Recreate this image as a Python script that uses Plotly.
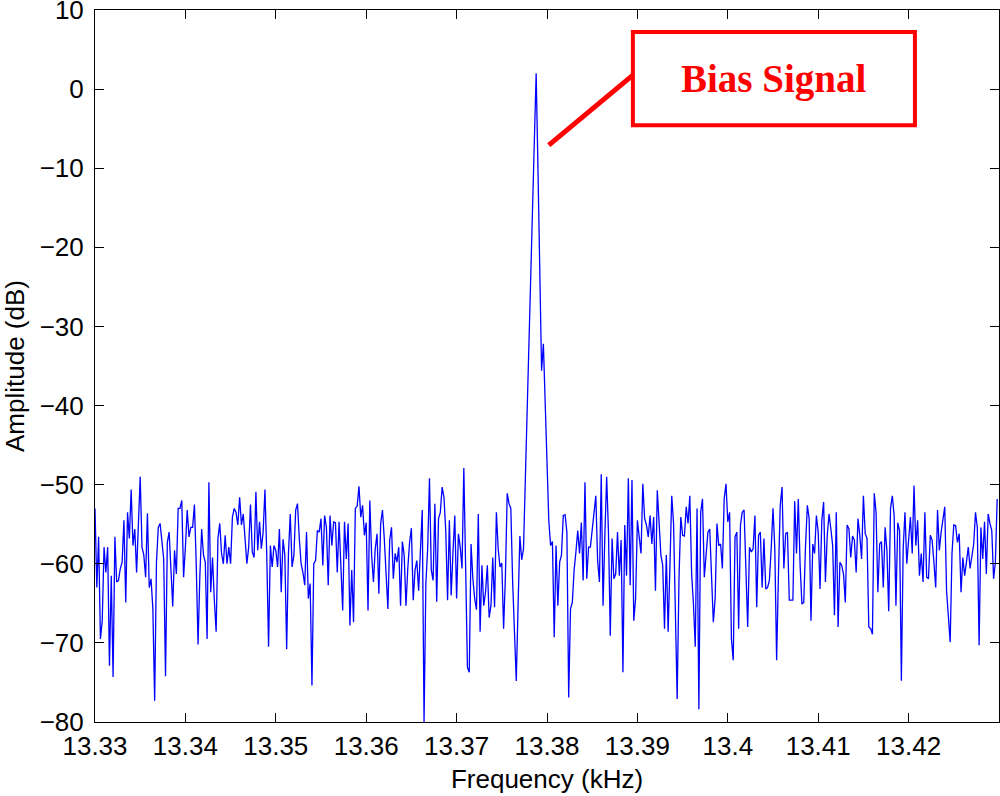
import numpy as np
import plotly.graph_objects as go

# ---------------- data ----------------
f_start = 13.33          # kHz
f_step = 0.0002          # kHz per bin

amp_seg1 = [-53.0, -63.0, -56.6, -69.5, -67.2, -57.9, -61.1, -57.9, -72.9, -61.5,
            -74.3, -56.6, -62.3, -62.1, -60.6, -59.8, -54.5, -64.9, -53.5, -56.8,
            -50.6, -57.7, -55.6, -61.1, -55.0, -49.0, -57.9, -58.9, -61.7, -53.6,
            -63.0, -61.9, -65.7, -77.3, -59.8, -55.4, -54.9, -57.7, -59.4, -74.2,
            -57.3, -56.0, -60.2, -65.4, -58.3, -61.3, -53.0, -53.0, -52.0, -61.7,
            -57.9, -53.2, -56.6, -55.4, -55.4, -52.5, -60.2, -70.2, -61.5, -55.6,
            -58.9, -59.8, -69.5, -49.7, -63.6, -59.2, -64.6, -68.6, -56.8, -54.9,
            -58.7, -60.0, -56.4, -60.0, -57.9, -60.0, -54.1, -53.0, -53.5, -55.1,
            -51.6, -55.1, -53.7, -57.5, -60.0]
amp_seg2 = [-57.9, -52.5, -58.5, -59.2, -50.9, -58.3, -54.7, -58.1, -56.0, -50.6,
            -58.9, -70.5, -57.7, -60.4, -57.7, -58.3, -60.4, -55.6, -63.6, -56.9,
            -58.9, -70.8, -58.7, -53.7, -60.4, -58.9, -53.2, -52.4, -56.8, -60.0,
            -61.1, -62.7, -56.0, -64.4, -62.5, -75.4, -60.0, -59.6, -55.8, -56.0,
            -54.3, -60.2, -53.9, -55.4, -62.7, -53.9, -57.7, -54.7, -54.8, -61.1,
            -54.7, -60.2, -65.9, -54.7, -59.4, -54.9, -67.8, -60.8, -67.4, -53.0,
            -52.7, -50.2, -54.1, -52.6, -56.4, -54.8, -65.9, -52.0, -58.9, -62.3,
            -58.1, -56.2, -63.8, -54.9, -53.2, -56.8, -61.1, -65.7, -57.0, -55.4,
            -61.9, -58.7, -59.8]
amp_seg3 = [-57.9, -65.3, -57.2, -58.9, -65.3, -60.6, -57.3, -55.5, -64.6, -60.8,
            -59.6, -63.4, -58.3, -53.2, -80.0, -62.5, -58.1, -49.2, -60.8, -62.1,
            -52.4, -64.8, -54.3, -53.5, -50.3, -51.6, -55.8, -64.6, -54.5, -64.0,
            -58.5, -53.9, -64.4, -56.2, -57.9, -60.6, -47.9, -62.7, -73.1, -73.7,
            -57.5, -61.9, -64.4, -65.8, -53.7, -68.6, -60.2, -65.3, -63.6, -60.2,
            -66.8, -65.3, -59.2, -65.5, -53.5, -58.1, -60.4, -59.9, -68.2, -61.5,
            -51.1, -52.4, -53.0, -62.3, -68.0, -74.8, -65.3, -56.5, -59.5, -58.1]
amp_peak = [-49.5, -41.0, -32.5, -24.0, -15.5, -7.0, 2.0, -10.0, -22.5, -35.6,
            -32.2, -39.0, -47.0, -54.6]
amp_seg4 = [-57.7, -57.2, -69.3, -57.7, -65.3, -59.8, -58.9, -53.9, -53.8, -56.0,
            -76.9, -65.7, -64.9, -60.8, -58.5, -55.8, -58.7, -54.8, -62.1, -49.7,
            -61.9, -57.9, -57.9, -55.4, -53.9, -51.4, -59.6, -62.3, -48.7, -65.3,
            -56.4, -49.0, -56.0, -69.1, -56.8, -61.9, -61.3, -56.0, -61.5, -57.0,
            -73.7, -55.1, -61.5, -49.2, -62.7, -49.4, -67.2, -64.4, -54.5, -56.6,
            -58.7, -49.9, -54.3, -55.1, -56.6, -53.9, -57.5, -54.1, -63.4, -50.7,
            -54.9, -58.9, -60.2, -68.2, -58.9, -68.6, -60.2, -51.4, -54.9, -66.5,
            -77.1, -61.9, -54.1, -56.4, -56.5, -52.8, -54.9, -51.4, -61.3, -65.1,
            -70.5, -53.0, -78.4]
amp_seg5 = [-53.5, -51.8, -61.7, -58.7, -56.0, -55.6, -60.6, -67.4, -64.4, -54.9,
            -57.7, -57.5, -60.6, -51.8, -49.9, -54.7, -53.5, -69.5, -72.2, -56.6,
            -56.0, -68.2, -55.1, -53.5, -53.2, -60.2, -68.0, -57.9, -58.5, -58.1,
            -53.9, -65.5, -56.4, -56.0, -63.0, -56.8, -63.2, -63.0, -62.1, -58.1,
            -53.0, -58.1, -72.2, -61.5, -52.6, -50.3, -60.6, -56.2, -56.0, -64.6,
            -64.6, -64.6, -52.1, -58.7, -51.8, -60.2, -65.1, -64.9, -57.7, -52.6,
            -54.3, -67.2, -57.5, -58.7, -53.9, -56.0, -63.2, -54.5, -52.2, -62.3,
            -56.4, -53.7, -55.6, -57.7, -66.5, -53.5, -68.0, -59.8, -60.2, -61.3,
            -64.9, -55.1, -55.6]
amp_seg6 = [-59.2, -56.5, -57.0, -61.1, -54.3, -56.4, -59.4, -51.4, -56.2, -56.8,
            -68.0, -68.2, -68.9, -51.1, -53.5, -63.6, -57.5, -57.2, -63.0, -55.4,
            -58.3, -66.0, -53.0, -51.4, -53.9, -65.3, -54.8, -55.8, -74.8, -58.1,
            -53.5, -60.0, -57.0, -54.1, -58.7, -50.1, -57.7, -54.5, -61.5, -58.7,
            -62.3, -53.5, -61.7, -61.9, -56.4, -57.0, -59.8, -63.0, -53.2, -58.3,
            -56.0, -54.3, -52.8, -63.4, -67.0, -69.9, -58.7, -55.1, -55.2, -57.3,
            -56.2, -63.6, -59.2, -61.5, -59.8, -57.9, -60.6, -58.9, -57.5, -53.5,
            -55.4, -70.3, -55.4, -59.4, -54.7, -61.3, -53.7, -54.9, -55.8, -61.9,
            -59.8, -51.8]

x_tick_vals = [13.33, 13.34, 13.35, 13.36, 13.37, 13.38, 13.39, 13.40, 13.41, 13.42]
x_tick_text = ["13.33", "13.34", "13.35", "13.36", "13.37", "13.38", "13.39", "13.4", "13.41", "13.42"]
y_tick_vals = [-80, -70, -60, -50, -40, -30, -20, -10, 0, 10]

x_range = [13.33, 13.43]
y_range = [-80, 10]

# annotation (data coordinates)
label_text = "Bias Signal"
box_x = [13.3895, 13.4207]
box_y = [-4.56, 7.22]
pointer_x = [13.3802, 13.3895]
pointer_y = [-7.09, 1.77]

# ---------------- build ----------------
amplitude = np.array(amp_seg1 + amp_seg2 + amp_seg3 + amp_peak + amp_seg4 + amp_seg5 + amp_seg6)
frequency = f_start + f_step * np.arange(len(amplitude))

fig = go.Figure()
fig.add_trace(go.Scatter(x=frequency, y=amplitude, mode="lines",
                         line=dict(color="#0000FF", width=1.3), showlegend=False,
                         hoverinfo="x+y"))

red = "#FF0000"
fig.add_shape(type="rect", xref="x", yref="y", x0=box_x[0], x1=box_x[1],
              y0=box_y[0], y1=box_y[1], line=dict(color=red, width=4),
              fillcolor="rgba(0,0,0,0)", layer="above")
fig.add_shape(type="line", xref="x", yref="y", x0=pointer_x[0], x1=pointer_x[1],
              y0=pointer_y[0], y1=pointer_y[1], line=dict(color=red, width=5),
              layer="above")
fig.add_annotation(x=(box_x[0] + box_x[1]) / 2, y=(box_y[0] + box_y[1]) / 2,
                   xref="x", yref="y", text="<b>" + label_text + "</b>",
                   showarrow=False, xanchor="center", yanchor="middle",
                   font=dict(family="Liberation Serif, Times New Roman, serif",
                             size=39, color=red))

axis_font = dict(family="Liberation Sans, Arial, sans-serif", size=26, color="black")

fig.update_xaxes(range=x_range, tickmode="array", tickvals=x_tick_vals,
                 ticktext=x_tick_text, ticks="inside", ticklen=9, tickwidth=1,
                 tickcolor="black", showline=True, linecolor="black", linewidth=1,
                 mirror="ticks", showgrid=False, zeroline=False, automargin=False,
                 tickfont=axis_font, ticklabelstandoff=1, ticklabeloverflow="allow",
                 title=dict(text="Frequency (kHz)", font=axis_font, standoff=9))
fig.update_yaxes(range=y_range, tickmode="array", tickvals=y_tick_vals,
                 ticks="inside", ticklen=9, tickwidth=1,
                 tickcolor="black", showline=True, linecolor="black", linewidth=1,
                 mirror="ticks", showgrid=False, zeroline=False, automargin=False,
                 tickfont=axis_font, ticklabelstandoff=5, ticklabeloverflow="allow",
                 title=dict(text="Amplitude (dB)", font=axis_font, standoff=14))

fig.update_layout(width=1000, height=796,
                  margin=dict(l=95, r=1, t=10, b=74),
                  paper_bgcolor="white", plot_bgcolor="white",
                  font=axis_font)

fig.write_html("out.html", config={"displayModeBar": False},
               post_script="document.body.style.margin='0px';document.body.style.padding='0px';")
